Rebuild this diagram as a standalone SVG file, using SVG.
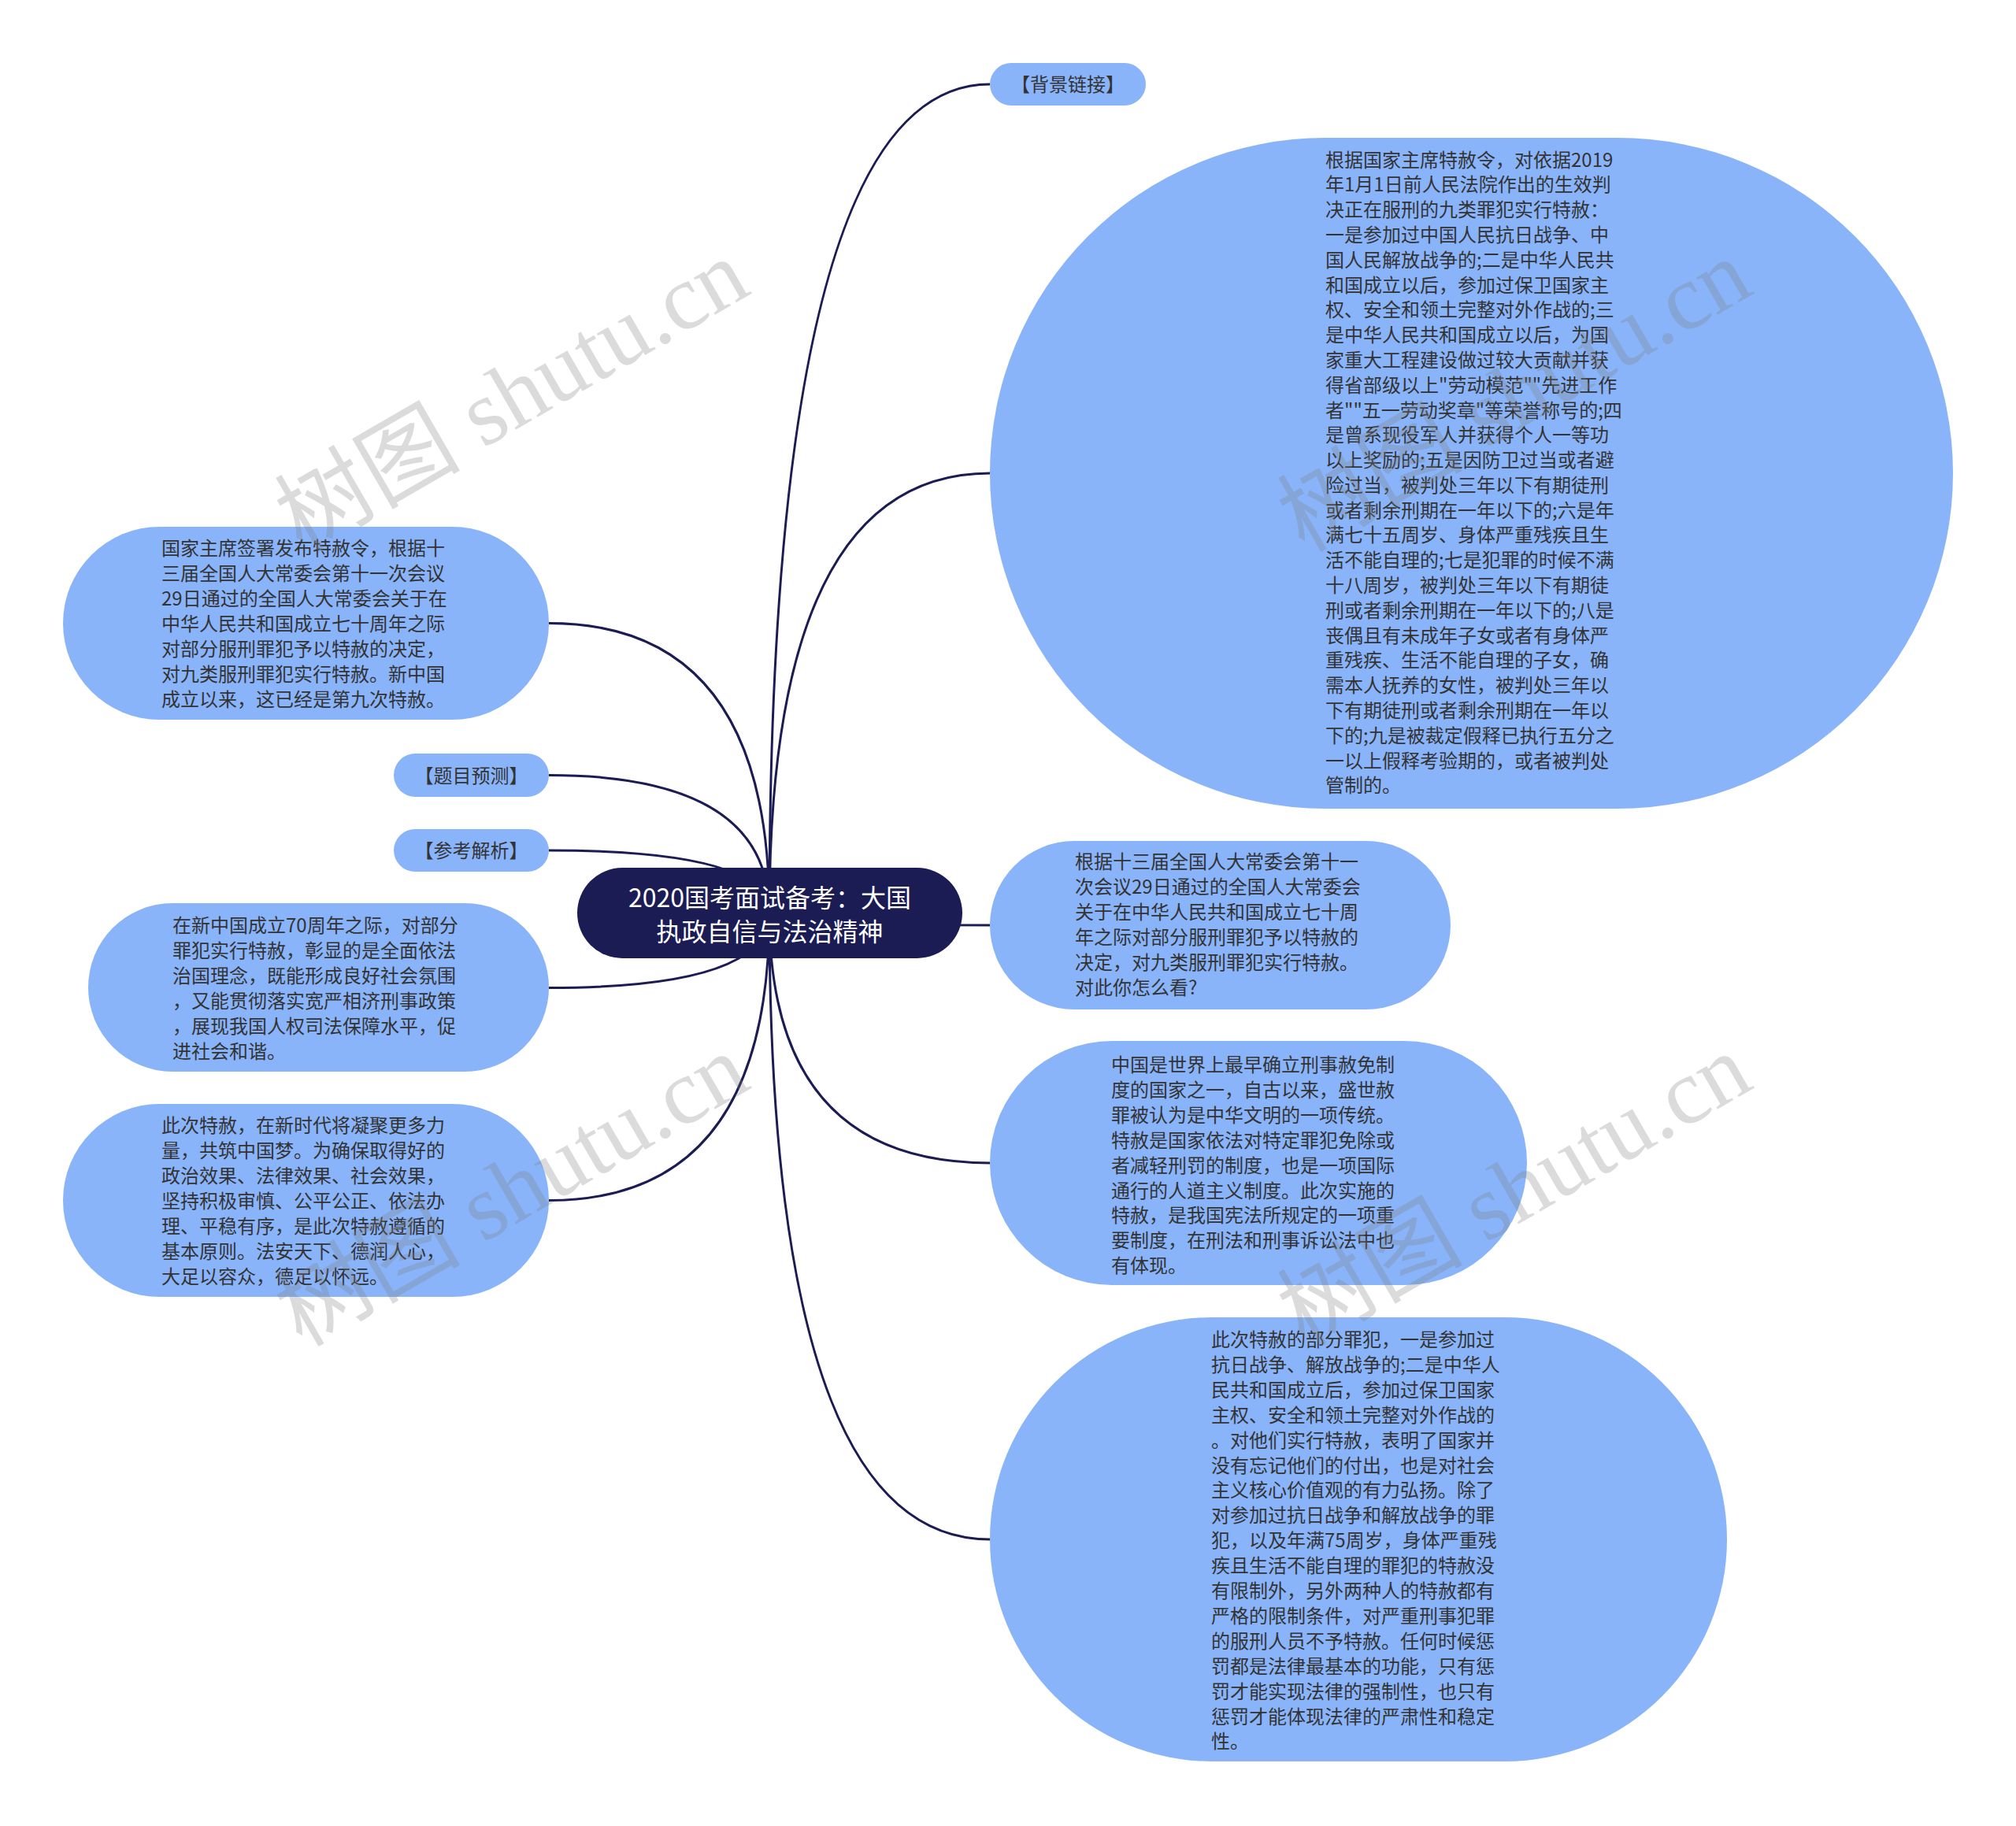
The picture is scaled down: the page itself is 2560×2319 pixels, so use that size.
<svg xmlns="http://www.w3.org/2000/svg" width="2560" height="2319" viewBox="0 0 2560 2319">
<style>
.bg{fill:#ffffff}
.conn{fill:none;stroke:#1c1c54;stroke-width:3}
.node{fill:#89b4fa}
.root{fill:#1c1c54}
.t{font-family:"Noto Sans CJK SC","Noto Sans",sans-serif;font-size:24px;fill:#333333}
.tc{text-anchor:middle}
.rt{font-family:"Noto Sans CJK SC","Noto Sans",sans-serif;font-size:32px;fill:#ffffff;text-anchor:middle}
.wm{font-family:"Liberation Serif","Noto Sans CJK SC",serif;font-size:118px;fill:#808080;opacity:0.28}
</style>
<rect class="bg" x="0" y="0" width="2560" height="2319"/>
<g id="connectors">
<path class="conn" d="M977,1159.5 Q977,107 1257,107"/>
<path class="conn" d="M977,1159.5 Q977,601 1257,601"/>
<path class="conn" d="M977,1159.5 Q977,1175 1257,1175"/>
<path class="conn" d="M977,1159.5 Q977,1477 1257,1477"/>
<path class="conn" d="M977,1159.5 Q977,1955 1257,1955"/>
<path class="conn" d="M977,1159.5 Q977,791.5 697,791.5"/>
<path class="conn" d="M977,1159.5 Q977,984.5 697,984.5"/>
<path class="conn" d="M977,1159.5 Q977,1080 697,1080"/>
<path class="conn" d="M977,1159.5 Q977,1254.5 697,1254.5"/>
<path class="conn" d="M977,1159.5 Q977,1524.5 697,1524.5"/>
</g>
<g id="root">
<rect class="root" x="733" y="1102" width="489" height="115" rx="57.5"/>
<text class="rt"><tspan x="977.5" y="1152">2020国考面试备考：大国</tspan><tspan x="977.5" y="1195">执政自信与法治精神</tspan></text>
</g>
<g id="n-beijing">
<rect class="node" x="1257" y="80" width="198" height="54" rx="27"/>
<text class="t tc" x="1356" y="116">【背景链接】</text>
</g>
<g id="n-tesheling">
<rect class="node" x="1257" y="175" width="1223" height="852" rx="426"/>
<text class="t"><tspan x="1683" y="211.5">根据国家主席特赦令，对依据2019</tspan><tspan x="1683" dy="31.8">年1月1日前人民法院作出的生效判</tspan><tspan x="1683" dy="31.8">决正在服刑的九类罪犯实行特赦：</tspan><tspan x="1683" dy="31.8">一是参加过中国人民抗日战争、中</tspan><tspan x="1683" dy="31.8">国人民解放战争的;二是中华人民共</tspan><tspan x="1683" dy="31.8">和国成立以后，参加过保卫国家主</tspan><tspan x="1683" dy="31.8">权、安全和领土完整对外作战的;三</tspan><tspan x="1683" dy="31.8">是中华人民共和国成立以后，为国</tspan><tspan x="1683" dy="31.8">家重大工程建设做过较大贡献并获</tspan><tspan x="1683" dy="31.8">得省部级以上"劳动模范""先进工作</tspan><tspan x="1683" dy="31.8">者""五一劳动奖章"等荣誉称号的;四</tspan><tspan x="1683" dy="31.8">是曾系现役军人并获得个人一等功</tspan><tspan x="1683" dy="31.8">以上奖励的;五是因防卫过当或者避</tspan><tspan x="1683" dy="31.8">险过当，被判处三年以下有期徒刑</tspan><tspan x="1683" dy="31.8">或者剩余刑期在一年以下的;六是年</tspan><tspan x="1683" dy="31.8">满七十五周岁、身体严重残疾且生</tspan><tspan x="1683" dy="31.8">活不能自理的;七是犯罪的时候不满</tspan><tspan x="1683" dy="31.8">十八周岁，被判处三年以下有期徒</tspan><tspan x="1683" dy="31.8">刑或者剩余刑期在一年以下的;八是</tspan><tspan x="1683" dy="31.8">丧偶且有未成年子女或者有身体严</tspan><tspan x="1683" dy="31.8">重残疾、生活不能自理的子女，确</tspan><tspan x="1683" dy="31.8">需本人抚养的女性，被判处三年以</tspan><tspan x="1683" dy="31.8">下有期徒刑或者剩余刑期在一年以</tspan><tspan x="1683" dy="31.8">下的;九是被裁定假释已执行五分之</tspan><tspan x="1683" dy="31.8">一以上假释考验期的，或者被判处</tspan><tspan x="1683" dy="31.8">管制的。</tspan></text>
</g>
<g id="n-wenti">
<rect class="node" x="1257" y="1068" width="585" height="214" rx="107"/>
<text class="t"><tspan x="1365" y="1103">根据十三届全国人大常委会第十一</tspan><tspan x="1365" dy="32">次会议29日通过的全国人大常委会</tspan><tspan x="1365" dy="32">关于在中华人民共和国成立七十周</tspan><tspan x="1365" dy="32">年之际对部分服刑罪犯予以特赦的</tspan><tspan x="1365" dy="32">决定，对九类服刑罪犯实行特赦。</tspan><tspan x="1365" dy="32">对此你怎么看?</tspan></text>
</g>
<g id="n-zhongguo">
<rect class="node" x="1257" y="1322" width="682" height="310" rx="155"/>
<text class="t"><tspan x="1411" y="1361">中国是世界上最早确立刑事赦免制</tspan><tspan x="1411" dy="31.9">度的国家之一，自古以来，盛世赦</tspan><tspan x="1411" dy="31.9">罪被认为是中华文明的一项传统。</tspan><tspan x="1411" dy="31.9">特赦是国家依法对特定罪犯免除或</tspan><tspan x="1411" dy="31.9">者减轻刑罚的制度，也是一项国际</tspan><tspan x="1411" dy="31.9">通行的人道主义制度。此次实施的</tspan><tspan x="1411" dy="31.9">特赦，是我国宪法所规定的一项重</tspan><tspan x="1411" dy="31.9">要制度，在刑法和刑事诉讼法中也</tspan><tspan x="1411" dy="31.9">有体现。</tspan></text>
</g>
<g id="n-bufen">
<rect class="node" x="1257" y="1673" width="936" height="564" rx="282"/>
<text class="t"><tspan x="1538" y="1710">此次特赦的部分罪犯，一是参加过</tspan><tspan x="1538" dy="31.9">抗日战争、解放战争的;二是中华人</tspan><tspan x="1538" dy="31.9">民共和国成立后，参加过保卫国家</tspan><tspan x="1538" dy="31.9">主权、安全和领土完整对外作战的</tspan><tspan x="1538" dy="31.9">。对他们实行特赦，表明了国家并</tspan><tspan x="1538" dy="31.9">没有忘记他们的付出，也是对社会</tspan><tspan x="1538" dy="31.9">主义核心价值观的有力弘扬。除了</tspan><tspan x="1538" dy="31.9">对参加过抗日战争和解放战争的罪</tspan><tspan x="1538" dy="31.9">犯，以及年满75周岁，身体严重残</tspan><tspan x="1538" dy="31.9">疾且生活不能自理的罪犯的特赦没</tspan><tspan x="1538" dy="31.9">有限制外，另外两种人的特赦都有</tspan><tspan x="1538" dy="31.9">严格的限制条件，对严重刑事犯罪</tspan><tspan x="1538" dy="31.9">的服刑人员不予特赦。任何时候惩</tspan><tspan x="1538" dy="31.9">罚都是法律最基本的功能，只有惩</tspan><tspan x="1538" dy="31.9">罚才能实现法律的强制性，也只有</tspan><tspan x="1538" dy="31.9">惩罚才能体现法律的严肃性和稳定</tspan><tspan x="1538" dy="31.9">性。</tspan></text>
</g>
<g id="n-zhuxi">
<rect class="node" x="80" y="669" width="617" height="245" rx="122.5"/>
<text class="t"><tspan x="205" y="705">国家主席签署发布特赦令，根据十</tspan><tspan x="205" dy="32">三届全国人大常委会第十一次会议</tspan><tspan x="205" dy="32">29日通过的全国人大常委会关于在</tspan><tspan x="205" dy="32">中华人民共和国成立七十周年之际</tspan><tspan x="205" dy="32">对部分服刑罪犯予以特赦的决定，</tspan><tspan x="205" dy="32">对九类服刑罪犯实行特赦。新中国</tspan><tspan x="205" dy="32">成立以来，这已经是第九次特赦。</tspan></text>
</g>
<g id="n-yuce">
<rect class="node" x="500" y="957" width="197" height="55" rx="27.5"/>
<text class="t tc" x="598.5" y="994">【题目预测】</text>
</g>
<g id="n-jiexi">
<rect class="node" x="500" y="1053" width="197" height="54" rx="27"/>
<text class="t tc" x="598.5" y="1089">【参考解析】</text>
</g>
<g id="n-70">
<rect class="node" x="112" y="1147" width="585" height="214" rx="107"/>
<text class="t"><tspan x="219" y="1183.5">在新中国成立70周年之际，对部分</tspan><tspan x="219" dy="32">罪犯实行特赦，彰显的是全面依法</tspan><tspan x="219" dy="32">治国理念，既能形成良好社会氛围</tspan><tspan x="219" dy="32">，又能贯彻落实宽严相济刑事政策</tspan><tspan x="219" dy="32">，展现我国人权司法保障水平，促</tspan><tspan x="219" dy="32">进社会和谐。</tspan></text>
</g>
<g id="n-xinshidai">
<rect class="node" x="80" y="1402" width="617" height="245" rx="122.5"/>
<text class="t"><tspan x="205" y="1437.5">此次特赦，在新时代将凝聚更多力</tspan><tspan x="205" dy="32">量，共筑中国梦。为确保取得好的</tspan><tspan x="205" dy="32">政治效果、法律效果、社会效果，</tspan><tspan x="205" dy="32">坚持积极审慎、公平公正、依法办</tspan><tspan x="205" dy="32">理、平稳有序，是此次特赦遵循的</tspan><tspan x="205" dy="32">基本原则。法安天下、德润人心，</tspan><tspan x="205" dy="32">大足以容众，德足以怀远。</tspan></text>
</g>
<g id="watermarks">
<text class="wm" text-anchor="middle" transform="translate(670,537) rotate(-30)">树图 shutu.cn</text>
<text class="wm" text-anchor="middle" transform="translate(1943,537) rotate(-30)">树图 shutu.cn</text>
<text class="wm" text-anchor="middle" transform="translate(670,1546) rotate(-30)">树图 shutu.cn</text>
<text class="wm" text-anchor="middle" transform="translate(1943,1546) rotate(-30)">树图 shutu.cn</text>
</g>
</svg>
